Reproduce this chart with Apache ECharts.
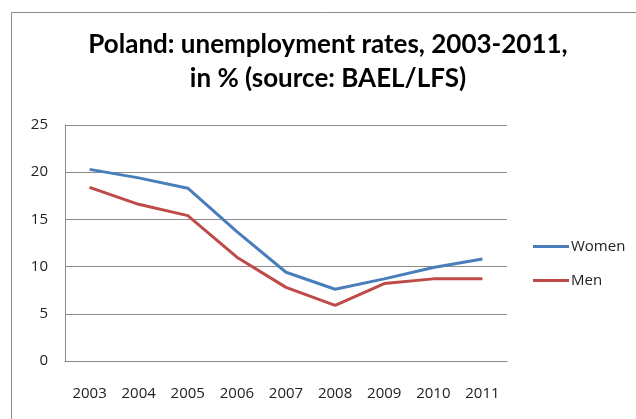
<!DOCTYPE html>
<html><head><meta charset="utf-8">
<script src="https://cdn.jsdelivr.net/npm/echarts@6/dist/echarts.min.js"></script>
<style>html,body{margin:0;padding:0;background:#fff}#c{width:636px;height:419px}</style>
</head><body><div id="c"></div>
<script>
const years = ['2003','2004','2005','2006','2007','2008','2009','2010','2011'];
const women = [20.3, 19.4, 18.3, 13.7, 9.4, 7.6, 8.7, 9.9, 10.8];
const men = [18.4, 16.6, 15.4, 11.0, 7.8, 5.9, 8.2, 8.7, 8.7];
const yTicks = [0, 5, 10, 15, 20, 25];
const titleLines = ['Poland: unemployment rates, 2003-2011,', 'in % (source: BAEL/LFS)'];

const tStyle = {fontFamily:'Lato, sans-serif', fontWeight:'bold', fontSize:26, color:'#000'};
const chart = echarts.init(document.getElementById('c'));
chart.setOption({
  animation: false,
  graphic: [{type:'rect', shape:{x:11.5, y:12.5, width:700, height:500}, style:{fill:'none', stroke:'#8a8a8a', lineWidth:1}, silent:true}],
  title: [
    {text: titleLines[0], left: 328, textAlign:'center', top: 32, padding:0, textStyle: tStyle},
    {text: titleLines[1], left: 328, textAlign:'center', top: 66, padding:0, textStyle: tStyle}
  ],
  legend: {
    orient:'vertical', left: 528, top: 234, itemWidth: 36, itemHeight: 3, itemGap: 19,
    icon: 'rect',
    textStyle: {fontFamily:'Open Sans', fontSize:15, color:'#222', padding:[0,0,0,-3]},
    data: ['Women','Men']
  },
  grid: {left: 65, right: 129, top: 125, bottom: 58},
  xAxis: {
    type:'category', data: years, boundaryGap: true,
    axisLine:{lineStyle:{color:'#888'}}, axisTick:{show:false},
    axisLabel:{fontFamily:'Open Sans', fontSize:15, color:'#222', margin:25}
  },
  yAxis: {
    type:'value', min: yTicks[0], max: yTicks[yTicks.length-1], interval: 5,
    axisLine:{show:true, lineStyle:{color:'#888'}}, axisTick:{show:false},
    splitLine:{lineStyle:{color:'#8c8c8c'}},
    axisLabel:{fontFamily:'Open Sans', fontSize:15, color:'#222', margin:17}
  },
  series: [
    {name:'Women', type:'line', data: women, symbol:'none', lineStyle:{width:3, color:'#4A7EBB'}, itemStyle:{color:'#4A7EBB'}},
    {name:'Men', type:'line', data: men, symbol:'none', lineStyle:{width:3, color:'#BE4B48'}, itemStyle:{color:'#BE4B48'}}
  ]
});
</script></body></html>
